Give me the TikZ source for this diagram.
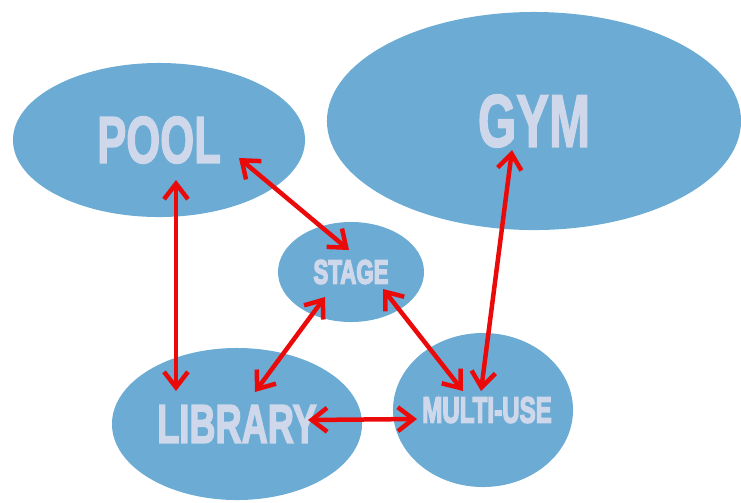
\documentclass[tikz,border=0pt]{standalone}
\usepackage{fontspec}
\setmainfont{Liberation Sans}
\usepackage{tikz}
\usetikzlibrary{shapes.geometric,arrows.meta}
\definecolor{roomblue}{RGB}{108,172,212}
\definecolor{roomtext}{RGB}{206,216,234}
\definecolor{linkred}{RGB}{235,10,10}
\newcommand{\roomlabel}[2]{\scalebox{0.66}[1]{\special{pdf:literal direct 2 Tr 1.2 w}\fontsize{#1}{#1}\selectfont\bfseries #2\special{pdf:literal direct 0 Tr}}}
\tikzset{
room/.style={ellipse,fill=roomblue,text=roomtext,inner sep=0pt},
link/.style={linkred,line width=3.2pt,{Straight Barb[length=11pt,width=17pt]}-{Straight Barb[length=11pt,width=17pt]}}
}

\begin{document}
\begin{tikzpicture}[x=0.025cm,y=-0.025cm]
\useasboundingbox (0,0) rectangle (741,502);
\node[room,minimum width=7.3cm,minimum height=3.85cm] (pool) at (159,140) {\roomlabel{47pt}{POOL}\hspace{0.3cm}};
\node[room,minimum width=10.35cm,minimum height=5.45cm] (gym) at (534,121) {\roomlabel{53pt}{GYM}};
\node[room,minimum width=3.65cm,minimum height=2.5cm] (stage) at (351,272) {\roomlabel{24pt}{STAGE}\hspace{0.3cm}};
\node[room,minimum width=6.25cm,minimum height=3.8cm] (library) at (237,424) {\roomlabel{39pt}{LIBRARY}};
\node[room,inner xsep=-0.6cm,minimum width=4.5cm,minimum height=3.85cm] (multi) at (483,410) {\hspace{0.2cm}\roomlabel{26pt}{MULTI-USE}};
\draw[link] ([shift={(17,40)}]pool.center) -- ([shift={(-61,-33)}]library.center);
\draw[link] ([shift={(80,18)}]pool.center) -- ([shift={(-2,-22)}]stage.center);
\draw[link] ([shift={(-22,29)}]gym.center) -- ([shift={(-2,-19)}]multi.center);
\draw[link] ([shift={(-26,25)}]stage.center) -- ([shift={(18,-32)}]library.center);
\draw[link] ([shift={(32,17)}]stage.center) -- ([shift={(-20,-19)}]multi.center);
\draw[link] ([shift={(71,-4)}]library.center) -- ([shift={(-66,9)}]multi.center);
\end{tikzpicture}
\end{document}
